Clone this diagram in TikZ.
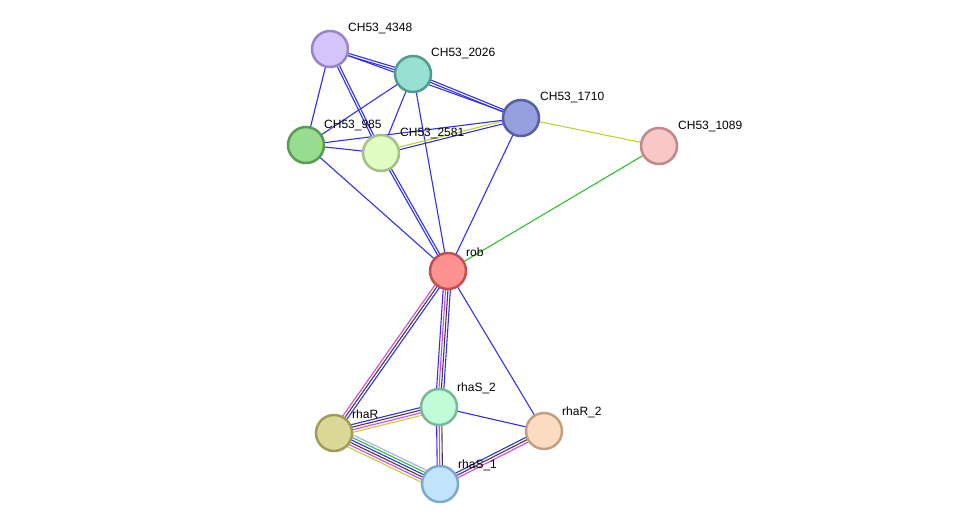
\documentclass[tikz,border=0pt]{standalone}
\usepackage{fontspec}
\setmainfont{Liberation Sans}
\usetikzlibrary{calc,backgrounds}

\definecolor{ebl}{HTML}{3030F0}
\definecolor{elb}{HTML}{A8A8FF}
\definecolor{emg}{HTML}{E040E0}
\definecolor{ebk}{HTML}{404040}
\definecolor{eyg}{HTML}{C0D030}
\definecolor{egr}{HTML}{30C030}

% parallel lines between two nodes, one per evidence colour
\newcommand{\multiedge}[3]{%
    \foreach \o/\c in {#3}{%
        \draw[edge, \c] ($(#1)!\o pt!90:(#2)$) -- ($(#2)!\o pt!-90:(#1)$);}}

\begin{document}
\begin{tikzpicture}[x = 1pt, y = -1pt,
    prot/.style = {shape = circle, draw, line width = 2.5pt, minimum size = 36pt, inner sep = 0pt},
    lbl/.style = {anchor = west, inner sep = 0pt, font = \fontsize{12}{14}\selectfont},
    edge/.style = {line width = 1.1pt}]
    \useasboundingbox (0,0) rectangle (975,530);

    \node [prot, fill = {rgb,255:red,212;green,196;blue,252}, draw = {rgb,255:red,152;green,132;blue,200}] (n4348) at (330,49) {};
    \node [prot, fill = {rgb,255:red,152;green,224;blue,212}, draw = {rgb,255:red,80;green,154;blue,144}] (n2026) at (413,74) {};
    \node [prot, fill = {rgb,255:red,150;green,160;blue,224}, draw = {rgb,255:red,84;green,96;blue,160}] (n1710) at (521,118) {};
    \node [prot, fill = {rgb,255:red,152;green,220;blue,144}, draw = {rgb,255:red,90;green,154;blue,84}] (n985) at (306,145) {};
    \node [prot, fill = {rgb,255:red,224;green,252;blue,192}, draw = {rgb,255:red,164;green,192;blue,136}] (n2581) at (381,153) {};
    \node [prot, fill = {rgb,255:red,248;green,200;blue,200}, draw = {rgb,255:red,192;green,136;blue,136}] (n1089) at (659,146) {};
    \node [prot, fill = {rgb,255:red,255;green,144;blue,144}, draw = {rgb,255:red,192;green,80;blue,80}] (rob) at (448,271) {};
    \node [prot, fill = {rgb,255:red,192;green,252;blue,216}, draw = {rgb,255:red,120;green,184;blue,152}] (rhaS2) at (439,407) {};
    \node [prot, fill = {rgb,255:red,220;green,216;blue,152}, draw = {rgb,255:red,160;green,156;blue,88}] (rhaR) at (334,433) {};
    \node [prot, fill = {rgb,255:red,252;green,220;blue,192}, draw = {rgb,255:red,192;green,160;blue,128}] (rhaR2) at (544,431) {};
    \node [prot, fill = {rgb,255:red,192;green,228;blue,252}, draw = {rgb,255:red,128;green,168;blue,200}] (rhaS1) at (440,484) {};

    \node [lbl] (l4348) at ($(n4348)+(18,-20)$) {CH53\_4348};
    \node [lbl] (l2026) at ($(n2026)+(18,-20)$) {CH53\_2026};
    \node [lbl] (l1710) at ($(n1710)+(19,-20)$) {CH53\_1710};
    \node [lbl] (l985) at ($(n985)+(18,-19)$) {CH53\_985};
    \node [lbl] (l2581) at ($(n2581)+(19,-19)$) {CH53\_2581};
    \node [lbl] (l1089) at ($(n1089)+(19,-19)$) {CH53\_1089};
    \node [lbl] (lrob) at ($(rob)+(18,-19)$) {rob};
    \node [lbl] (lrhaS2) at ($(rhaS2)+(18,-19)$) {rhaS\_2};
    \node [lbl] (lrhaR) at ($(rhaR)+(18,-19)$) {rhaR};
    \node [lbl] (lrhaR2) at ($(rhaR2)+(18,-19)$) {rhaR\_2};
    \node [lbl] (lrhaS1) at ($(rhaS1)+(18,-19)$) {rhaS\_1};

    \begin{scope}[on background layer]
        % upper cluster
        \multiedge{n4348}{n2026}{-1.2/ebl, 1.2/ebl}
        \multiedge{n4348}{n1710}{0/ebl}
        \multiedge{n4348}{n985}{0/ebl}
        \multiedge{n4348}{n2581}{-1.2/ebl, 1.2/ebl}
        \multiedge{n2026}{n1710}{-1.2/ebl, 1.2/ebl}
        \multiedge{n2026}{n985}{0/ebl}
        \multiedge{n2026}{n2581}{0/ebl}
        \multiedge{n2026}{rob}{0/ebl}
        \multiedge{n1710}{n985}{0/ebl}
        \multiedge{n1710}{n2581}{-1.3/eyg, 1.3/ebl}
        \multiedge{n1710}{rob}{0/ebl}
        \multiedge{n1710}{n1089}{0/eyg}
        \multiedge{n985}{n2581}{0/ebl}
        \multiedge{n985}{rob}{0/ebl}
        \multiedge{n2581}{rob}{-1.2/ebl, 1.2/ebl}
        \multiedge{n1089}{rob}{0/egr}
        % lower cluster
        \multiedge{rob}{rhaR}{-2.6/emg, 0/ebk, 2.6/ebl}
        \multiedge{rob}{rhaS2}{-3.6/ebl, -1.2/emg, 1.2/ebk, 3.6/ebl}
        \multiedge{rob}{rhaR2}{0/ebl}
        \multiedge{rhaR}{rhaS2}{-3.9/eyg, -1.3/emg, 1.3/ebk, 3.9/ebl}
        \multiedge{rhaR}{rhaS1}{6.5/elb, 3.9/egr, 1.3/ebl, -1.3/ebk, -3.9/emg, -6.5/eyg}
        \multiedge{rhaS2}{rhaS1}{-2.6/ebl, 0/emg, 2.6/ebk}
        \multiedge{rhaS2}{rhaR2}{0/ebl}
        \multiedge{rhaR2}{rhaS1}{-2.6/ebl, 0/ebk, 2.6/emg}
    \end{scope}
\end{tikzpicture}
\end{document}
